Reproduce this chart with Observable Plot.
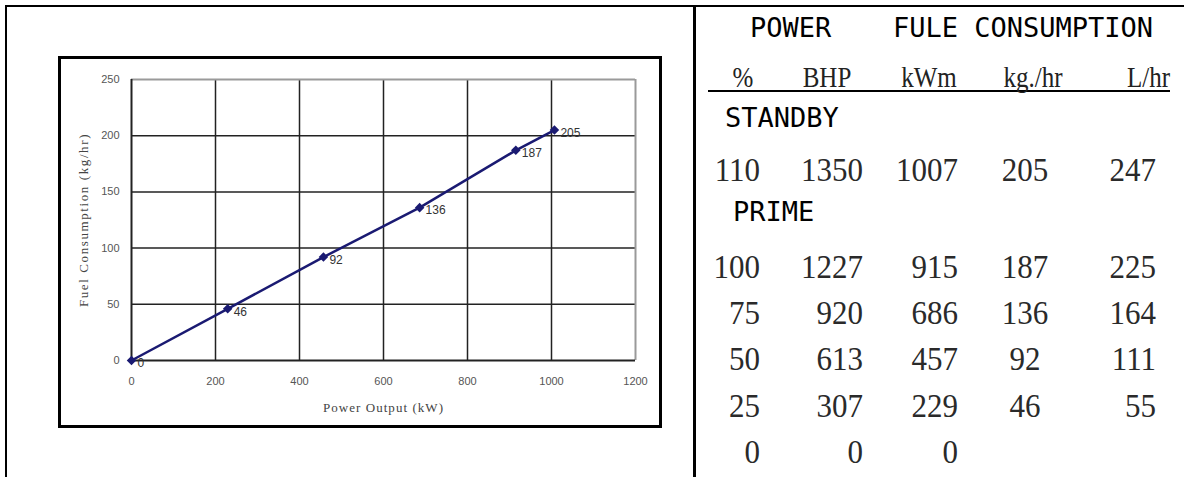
<!DOCTYPE html>
<html><head><meta charset="utf-8">
<script src="https://cdn.jsdelivr.net/npm/d3@7"></script>
<script src="https://cdn.jsdelivr.net/npm/@observablehq/plot@0.6"></script>
<style>
html,body{margin:0;padding:0;background:#fff;overflow:hidden}
#page{position:relative;width:1188px;height:477px;overflow:hidden;background:#fff}
.ln{position:absolute;background:#000}
.t{position:absolute;white-space:nowrap;height:100px;line-height:100px}
.hd{font-family:"DejaVu Sans Mono",monospace;font-size:27px;color:#000}
.sub{font-family:"Liberation Serif",serif;font-size:25px;color:#222;transform:scaleY(1.2)}
.num{font-family:"Liberation Serif",serif;font-size:31px;color:#2a2a2a;transform:scaleY(1.1)}
#chartbox{position:absolute;left:58px;top:56px;width:604px;height:372px}
#chartframe{position:absolute;left:58px;top:56px;width:604px;height:372px;box-sizing:border-box;border:3px solid #000;pointer-events:none}
</style></head><body><div id="page"><div id="chartbox"></div><div id="chartframe"></div></div>
<script>
// chart data
const powerKW = [0, 229, 457, 686, 915, 1007];
const fuelKgHr = [0, 46, 92, 136, 187, 205];
const xTicks = [0, 200, 400, 600, 800, 1000, 1200];
const yTicks = [0, 50, 100, 150, 200, 250];
const xTitle = "Power Output (kW)";
const yTitle = "Fuel Consumption (kg/hr)";
// table data
const headTitles = ["POWER", "FULE CONSUMPTION"];
const colHeads = ["%", "BHP", "kWm", "kg./hr", "L/hr"];
const sectionNames = ["STANDBY", "PRIME"];
const pctLoad = [110, 100, 75, 50, 25, 0];
const bhp = [1350, 1227, 920, 613, 307, 0];
const kwm = [1007, 915, 686, 457, 229, 0];
const kgHr = [205, 187, 136, 92, 46, null];
const lHr = [247, 225, 164, 111, 55, null];

const page = document.getElementById("page");
function line(l, t, w, h) {
  const e = document.createElement("div"); e.className = "ln";
  Object.assign(e.style, {left: l + "px", top: t + "px", width: w + "px", height: h + "px"});
  page.appendChild(e);
}
line(5, 5, 1179, 2);
line(5, 5, 2, 472);
line(693, 5, 2.5, 472);
line(708, 90, 462, 1.5);

const navy = "#1a1a72";
const pts = powerKW.map((x, i) => ({x, y: fuelKgHr[i]}));
const chart = Plot.plot({
  width: 604, height: 372,
  marginLeft: 73, marginTop: 23, marginRight: 27, marginBottom: 68,
  style: {background: "transparent", fontFamily: "'Liberation Sans', Arial, sans-serif", fontSize: "11px", color: "#555"},
  x: {domain: [0, 1200], ticks: xTicks, tickFormat: d => String(d), tickSize: 0, tickPadding: 17, label: null},
  y: {domain: [0, 250], ticks: yTicks, tickFormat: d => String(d), tickSize: 0, tickPadding: 12, label: null},
  marks: [
    Plot.ruleX(xTicks.filter(v => v > 0 && v < 1200), {stroke: "#222", strokeWidth: 1.5}),
    Plot.ruleY(yTicks.filter(v => v > 0 && v < 250), {stroke: "#222", strokeWidth: 1.5}),
    Plot.ruleY([250], {stroke: "#9a9a9a", strokeWidth: 2}),
    Plot.ruleX([1200], {stroke: "#9a9a9a", strokeWidth: 2}),
    Plot.ruleX([0], {stroke: "#222", strokeWidth: 2}),
    Plot.ruleY([0], {stroke: "#222", strokeWidth: 2}),
    Plot.line(pts, {x: "x", y: "y", stroke: navy, strokeWidth: 2.5}),
    Plot.dot(pts, {x: "x", y: "y", symbol: "diamond2", r: 4.3, fill: navy}),
    Plot.text(pts, {x: "x", y: "y", text: d => String(d.y), dx: 6, dy: 3, textAnchor: "start", fill: "#333", fontSize: 12}),
    Plot.text([xTitle], {text: d => d, frameAnchor: "bottom", dy: 47, textAnchor: "middle", lineAnchor: "middle", fill: "#444", fontSize: 13, fontFamily: "'Liberation Serif', serif"}),
    Plot.text([yTitle], {text: d => d, frameAnchor: "left", dx: -48, rotate: -90, textAnchor: "middle", lineAnchor: "middle", fill: "#444", fontSize: 13, fontFamily: "'Liberation Serif', serif"})
  ]
});
d3.select(chart).selectAll("text").each(function() {
  const s = this.textContent;
  if (s === xTitle) this.setAttribute("letter-spacing", "1.05");
  if (s === yTitle) this.setAttribute("letter-spacing", "1.6");
});
document.getElementById("chartbox").appendChild(chart);

function place(text, cls, x, cy, align) {
  const el = document.createElement("div");
  el.className = "t " + cls; el.textContent = text;
  el.style.top = (cy - 50) + "px";
  if (align === "left") el.style.left = x + "px";
  else if (align === "right") { el.style.left = (x - 400) + "px"; el.style.width = "400px"; el.style.textAlign = "right"; }
  else { el.style.left = (x - 200) + "px"; el.style.width = "400px"; el.style.textAlign = "center"; }
  page.appendChild(el);
}
place(headTitles[0], "hd", 750, 28, "left");
place(headTitles[1], "hd", 893, 28, "left");
const subX = [743, 827, 929, 1033, 1170];
const subA = ["center", "center", "center", "center", "right"];
colHeads.forEach((h, i) => place(h, "sub", subX[i], 77, subA[i]));
place(sectionNames[0], "hd", 725, 118, "left");
place(sectionNames[1], "hd", 733, 212, "left");
const rowY = [170, 267, 313, 359, 406, 452];
const colX = [760, 863, 958, 1025, 1156];
const colA = ["right", "right", "right", "center", "right"];
const cols = [pctLoad, bhp, kwm, kgHr, lHr];
rowY.forEach((y, r) => cols.forEach((c, j) => {
  if (c[r] !== null && c[r] !== undefined) place(String(c[r]), "num", colX[j], y, colA[j]);
}));
</script></body></html>
